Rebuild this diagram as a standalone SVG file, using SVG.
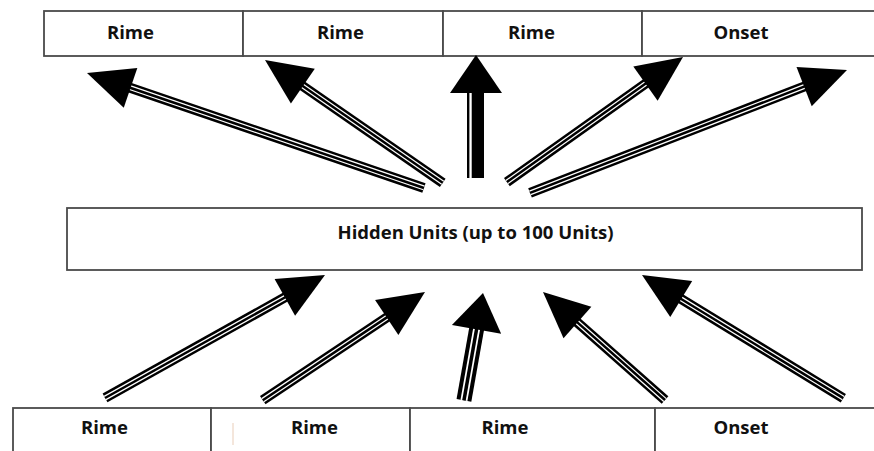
<svg xmlns="http://www.w3.org/2000/svg" xmlns:xlink="http://www.w3.org/1999/xlink" width="874" height="451" viewBox="0 0 874 451">
  <style>
    .cell { fill: #ffffff; stroke: #4a4a4a; stroke-width: 1.8; }
    .lbl { font-family: "Open Sans", "Liberation Sans", sans-serif; font-weight: bold; font-size: 18.5px; fill: #111111; text-anchor: middle; }
    .sh-o { stroke: #000000; stroke-width: 10; }
    .sh-w { stroke: #ffffff; stroke-width: 5; }
    .sh-c { stroke: #000000; stroke-width: 2.5; }
    .head { fill: #000000; }
  </style>
  <defs>
    <!-- arrowhead with its tip at the origin, pointing towards -x -->
    <polygon id="head" class="head" points="0,0 46,-21 46,21"/>
  </defs>

  <rect width="874" height="451" fill="#ffffff"/>

  <!-- output layer -->
  <g id="out-rime-1"><rect class="cell" x="44" y="11" width="199" height="45"/><text class="lbl" x="130.5" y="39">Rime</text></g>
  <g id="out-rime-2"><rect class="cell" x="243" y="11" width="200" height="45"/><text class="lbl" x="340.5" y="39">Rime</text></g>
  <g id="out-rime-3"><rect class="cell" x="443" y="11" width="199" height="45"/><text class="lbl" x="531.5" y="39">Rime</text></g>
  <g id="out-onset"><rect class="cell" x="642" y="11" width="240" height="45"/><text class="lbl" x="741" y="39">Onset</text></g>

  <!-- hidden layer -->
  <g id="hidden"><rect class="cell" x="67" y="208" width="795" height="62"/><text class="lbl" x="475.5" y="239">Hidden Units (up to 100 Units)</text></g>

  <!-- input layer -->
  <g id="in-rime-1"><rect class="cell" x="13" y="408" width="198" height="60"/><text class="lbl" x="104.5" y="434">Rime</text></g>
  <g id="in-rime-2"><rect class="cell" x="211" y="408" width="199" height="60"/><line x1="233" y1="423" x2="233" y2="445" stroke="#e9cdb8" stroke-width="1"/><text class="lbl" x="314.5" y="434">Rime</text></g>
  <g id="in-rime-3"><rect class="cell" x="410" y="408" width="245" height="60"/><text class="lbl" x="505" y="434">Rime</text></g>
  <g id="in-onset"><rect class="cell" x="655" y="408" width="230" height="60"/><text class="lbl" x="741" y="434">Onset</text></g>

  <!-- connectors: each drawn from its tip, rotated towards its tail -->
  <g id="connectors">
    <!-- hidden to output -->
    <g transform="translate(87,73) rotate(18.84)"><line class="sh-o" x1="44" y1="0" x2="356" y2="0"/><line class="sh-w" x1="44" y1="0" x2="356" y2="0"/><line class="sh-c" x1="44" y1="0" x2="356" y2="0"/><use xlink:href="#head"/></g>
    <g transform="translate(265,60) rotate(34.64)"><line class="sh-o" x1="44" y1="0" x2="216" y2="0"/><line class="sh-w" x1="44" y1="0" x2="216" y2="0"/><line class="sh-c" x1="44" y1="0" x2="216" y2="0"/><use xlink:href="#head"/></g>
    <g>
      <rect x="467" y="90" width="17" height="88" fill="#000000"/>
      <rect x="469.4" y="92" width="2.3" height="86" fill="#ffffff"/>
      <polygon class="head" points="476,55 450,93 502,93"/>
    </g>
    <g transform="translate(683,57) rotate(144.62)"><line class="sh-o" x1="44" y1="0" x2="216" y2="0"/><line class="sh-w" x1="44" y1="0" x2="216" y2="0"/><line class="sh-c" x1="44" y1="0" x2="216" y2="0"/><use xlink:href="#head"/></g>
    <g transform="translate(847,70) rotate(158.8)"><line class="sh-o" x1="44" y1="0" x2="340" y2="0"/><line class="sh-w" x1="44" y1="0" x2="340" y2="0"/><line class="sh-c" x1="44" y1="0" x2="340" y2="0"/><use xlink:href="#head"/></g>

    <!-- input to hidden -->
    <g transform="translate(325,275) rotate(150.79)"><line class="sh-o" x1="44" y1="0" x2="252" y2="0"/><line class="sh-w" x1="44" y1="0" x2="252" y2="0"/><line class="sh-c" x1="44" y1="0" x2="252" y2="0"/><use xlink:href="#head"/></g>
    <g transform="translate(425,292) rotate(146.31)"><line class="sh-o" x1="44" y1="0" x2="195" y2="0"/><line class="sh-w" x1="44" y1="0" x2="195" y2="0"/><line class="sh-c" x1="44" y1="0" x2="195" y2="0"/><use xlink:href="#head"/></g>
    <g transform="translate(483,293) rotate(100.07)">
      <line x1="34" y1="0" x2="109" y2="0" stroke="#000000" stroke-width="15"/>
      <line x1="36" y1="0" x2="109" y2="0" stroke="#ffffff" stroke-width="7"/>
      <line x1="36" y1="0" x2="109" y2="0" stroke="#000000" stroke-width="3.5"/>
      <polygon class="head" points="0,0 37,-25 37,25"/>
    </g>
    <g transform="translate(543,292) rotate(41.52)"><line class="sh-o" x1="44" y1="0" x2="163" y2="0"/><line class="sh-w" x1="44" y1="0" x2="163" y2="0"/><line class="sh-c" x1="44" y1="0" x2="163" y2="0"/><use xlink:href="#head"/></g>
    <g transform="translate(642,275) rotate(31.46)"><line class="sh-o" x1="44" y1="0" x2="236" y2="0"/><line class="sh-w" x1="44" y1="0" x2="236" y2="0"/><line class="sh-c" x1="44" y1="0" x2="236" y2="0"/><use xlink:href="#head"/></g>
  </g>
</svg>
